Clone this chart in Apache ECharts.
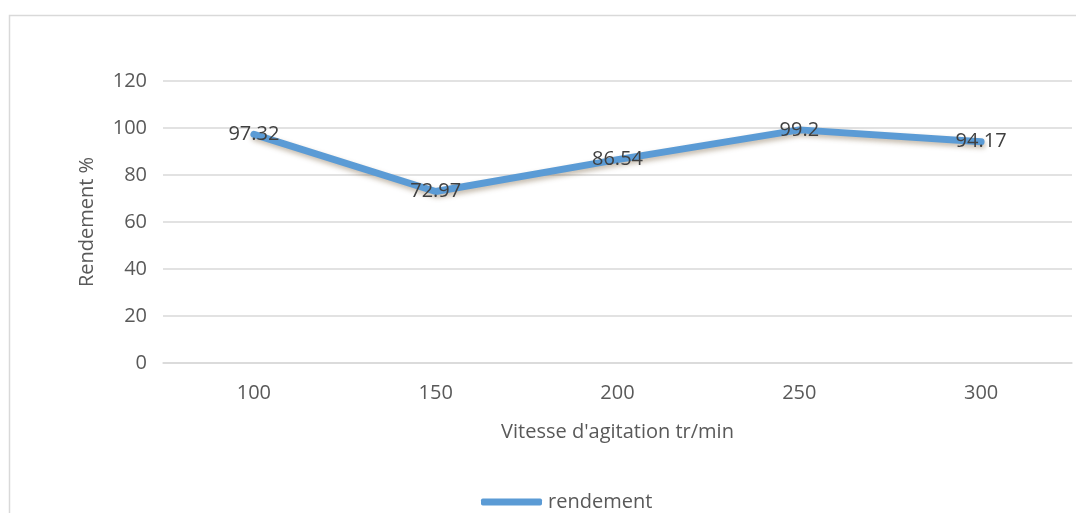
<!DOCTYPE html>
<html>
<head>
<meta charset="utf-8">
<script src="https://cdn.jsdelivr.net/npm/echarts@6/dist/echarts.min.js"></script>
<style>
  html, body { margin: 0; padding: 0; background: #fff; }
  #chart { width: 1076px; height: 513px; }
</style>
</head>
<body>
<div id="chart"></div>
<script>
// Stirring speed (tr/min) and yield (%)
const vitesses = ['100', '150', '200', '250', '300'];
const rendement = [97.32, 72.97, 86.54, 99.2, 94.17];
const yTicks = [0, 20, 40, 60, 80, 100, 120];

const FONT = '"Open Sans", "Noto Sans", sans-serif';
const chart = echarts.init(document.getElementById('chart'));

chart.setOption({
  backgroundColor: '#ffffff',
  animation: false,
  graphic: [{
    type: 'rect',
    left: 7, top: 13,
    shape: { width: 1100, height: 540 },
    style: { fill: 'none', stroke: '#d9d9d9', lineWidth: 1.5 },
    silent: true,
    z: -1
  }],
  grid: { left: 163, right: 4, top: 81, bottom: 150 },
  legend: {
    data: ['rendement'],
    left: 476,
    top: 487,
    itemWidth: 61,
    itemHeight: 7,
    icon: 'roundRect',
    itemGap: 4,
    itemStyle: { color: '#5b9bd5', opacity: 1 },
    textStyle: { fontFamily: FONT, fontSize: 20, color: '#595959', padding: [0, 0, 0, 1] }
  },
  xAxis: {
    type: 'category',
    data: vitesses,
    boundaryGap: true,
    name: "Vitesse d'agitation tr/min",
    nameLocation: 'middle',
    nameGap: 59,
    nameTextStyle: { fontFamily: FONT, fontSize: 20, color: '#595959' },
    axisLine: { lineStyle: { color: '#d9d9d9', width: 1.5 } },
    axisTick: { show: false },
    axisLabel: { margin: 20, fontFamily: FONT, fontSize: 20, color: '#595959' }
  },
  yAxis: {
    type: 'value',
    min: yTicks[0],
    max: yTicks[yTicks.length - 1],
    interval: yTicks[1] - yTicks[0],
    name: 'Rendement %',
    nameLocation: 'middle',
    nameGap: 66,
    nameTextStyle: { fontFamily: FONT, fontSize: 20, color: '#595959' },
    axisLine: { show: false },
    axisTick: { show: false },
    axisLabel: { margin: 16, fontFamily: FONT, fontSize: 20, color: '#595959' },
    splitLine: { lineStyle: { color: '#d9d9d9', width: 1.5 } }
  },
  series: [{
    name: 'rendement',
    type: 'line',
    data: rendement,
    showSymbol: true,
    showAllSymbol: true,
    symbol: 'circle',
    symbolSize: 2,
    itemStyle: { color: '#5b9bd5' },
    color: '#5b9bd5',
    lineStyle: {
      color: '#5b9bd5',
      width: 7,
      cap: 'round',
      join: 'round',
      shadowColor: 'rgba(90, 60, 20, 0.35)',
      shadowBlur: 5,
      shadowOffsetX: 1,
      shadowOffsetY: 3
    },
    label: {
      show: true,
      position: 'inside',
      offset: [0, 2],
      formatter: p => String(p.value),
      fontFamily: FONT,
      fontSize: 20,
      color: '#404040'
    },
    labelLayout: { hideOverlap: false },
    z: 3
  }]
});
</script>
</body>
</html>
